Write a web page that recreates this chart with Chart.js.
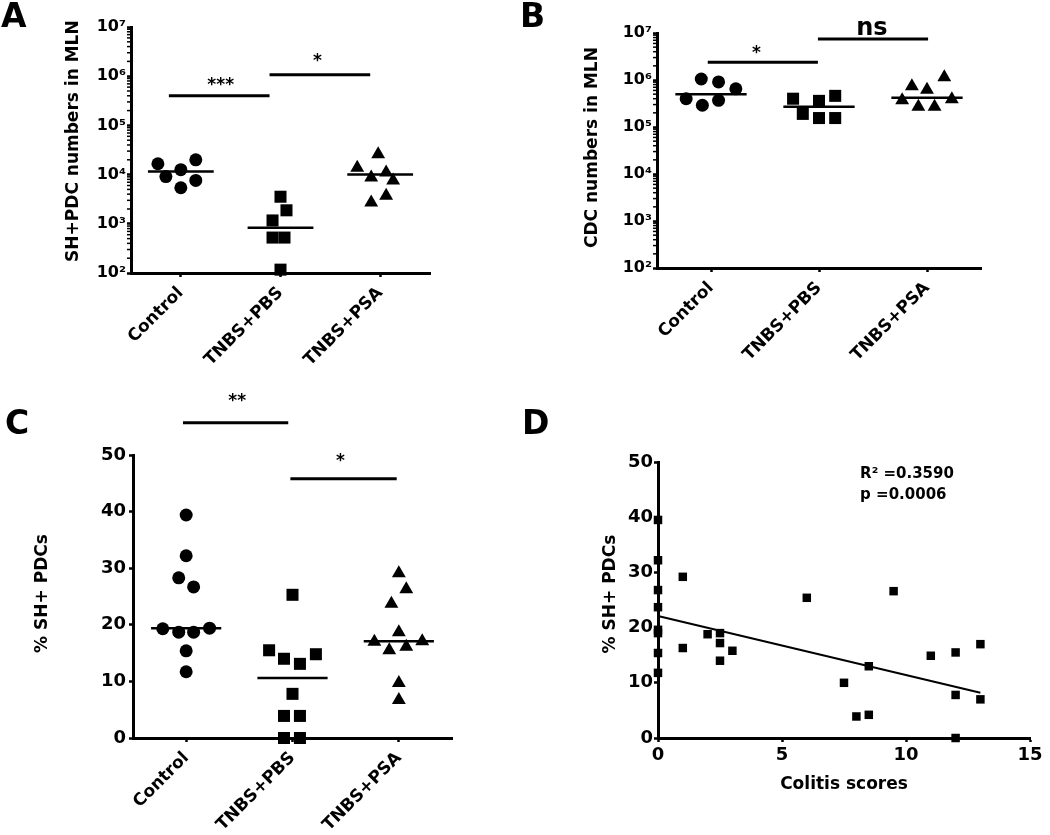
<!DOCTYPE html>
<html><head><meta charset="utf-8">
<script src="https://cdn.jsdelivr.net/npm/chart.js@4.4.1/dist/chart.umd.min.js"></script>
<style>
html,body{margin:0;padding:0;background:#fff;}
body{width:1050px;height:835px;position:relative;overflow:hidden;}
canvas{position:absolute;}
.lbl{position:absolute;font-family:'DejaVu Sans',sans-serif;font-weight:bold;font-size:33px;line-height:33px;color:#000;z-index:5;}
</style></head><body>
<canvas id="cA" width="520" height="400" style="left:0;top:0"></canvas>
<canvas id="cB" width="530" height="400" style="left:520px;top:0"></canvas>
<canvas id="cC" width="520" height="455" style="left:0;top:380px"></canvas>
<canvas id="cD" width="530" height="455" style="left:520px;top:380px"></canvas>
<div class="lbl" style="left:1px;top:-1px">A</div>
<div class="lbl" style="left:520px;top:-1px">B</div>
<div class="lbl" style="left:5px;top:406px">C</div>
<div class="lbl" style="left:522px;top:406px">D</div>
<script>
// ---------- shared categories / ticks ----------
const groups = ['Control', 'TNBS+PBS', 'TNBS+PSA'];
const groupTicks = [0, 1, 2];
const logTickValues = [1e2, 1e3, 1e4, 1e5, 1e6, 1e7];
const logTickLabels = ['10²', '10³', '10⁴', '10⁵', '10⁶', '10⁷'];
const pctTickValues = [0, 10, 20, 30, 40, 50];
const pctTickLabels = ['0', '10', '20', '30', '40', '50'];
const scoreTickValues = [0, 5, 10, 15];
const scoreTickLabels = ['0', '5', '10', '15'];

// ---------- Panel A : SH+PDC numbers in MLN ----------
const aControl = [16600, 20000, 9100, 12600, 7600, 5400];
const aControlJitter = [-0.23, 0.15, -0.15, 0, 0.15, 0];
const aPBS = [3550, 1880, 1170, 525, 525, 117];
const aPBSJitter = [0, 0.06, -0.08, -0.08, 0.04, 0];
const aPSA = [26000, 13800, 11000, 8700, 7600, 3700, 2700];
const aPSAJitter = [-0.02, -0.23, 0.06, -0.09, 0.13, 0.06, -0.09];
const aMedians = [11500, 830, 10000];
const aSigFrom = [-0.12, 0.89];
const aSigTo = [0.89, 1.9];
const aSigY = [4.0e5, 1.07e6];
const aSigText = ['***', '*'];
const aSigTextX = [0.40, 1.37];
const aSigTextY = [5.15e5, 1.58e6];

// ---------- Panel B : CDC numbers in MLN ----------
const bControl = [1.05e6, 9.1e5, 6.5e5, 4.0e5, 3.7e5, 2.9e5];
const bControlJitter = [-0.09, 0.07, 0.23, -0.23, 0.07, -0.08];
const bPBS = [4.0e5, 4.6e5, 3.6e5, 1.9e5, 1.55e5, 1.55e5];
const bPBSJitter = [-0.24, 0.15, 0, -0.15, 0, 0.15];
const bPSA = [1.15e6, 7.4e5, 6.2e5, 3.7e5, 3.9e5, 2.7e5, 2.7e5];
const bPSAJitter = [0.16, -0.14, 0, -0.23, 0.23, -0.08, 0.07];
const bMedians = [5.0e5, 2.7e5, 4.2e5];
const bSigFrom = [-0.03, 0.99];
const bSigTo = [0.99, 2.01];
const bSigY = [2.4e6, 7.45e6];
const bSigText = ['*', 'ns'];
const bSigTextX = [0.42, 1.49];
const bSigTextY = [3.0e6, 9.07e6];

// ---------- Panel C : % SH+ PDCs ----------
const cControl = [39.4, 32.2, 28.3, 26.7, 19.3, 18.7, 18.7, 19.4, 15.4, 11.7];
const cControlJitter = [0, 0, -0.07, 0.07, -0.22, -0.07, 0.07, 0.22, 0, 0];
const cPBS = [25.3, 15.5, 14.0, 13.1, 14.8, 7.8, 3.9, 3.9, 0, 0];
const cPBSJitter = [0, -0.22, -0.08, 0.07, 0.22, 0, -0.08, 0.07, -0.08, 0.07];
const cPSA = [29.1, 26.3, 23.7, 18.7, 17.0, 15.5, 16.1, 17.1, 9.7, 6.7];
const cPSAJitter = [0, 0.07, -0.07, 0, -0.23, -0.09, 0.07, 0.22, 0, 0];
const cMedians = [19.4, 10.6, 17.1];
const cSigFrom = [-0.03, 0.98];
const cSigTo = [0.96, 1.98];
const cSigY = [55.7, 45.8];
const cSigText = ['**', '*'];
const cSigTextX = [0.48, 1.45];
const cSigTextY = [58.7, 48.0];

// ---------- Panel D : % SH+ PDCs vs colitis scores ----------
const dScores = [0, 0, 0, 0, 0, 0, 0, 0, 1, 1, 2, 2.5, 2.5, 2.5, 3, 6, 7.5, 8, 8.5, 8.5, 9.5, 11, 12, 12, 12, 13, 13];
const dPct = [39.5, 32.2, 26.8, 23.7, 19.6, 19.0, 15.4, 11.8, 29.2, 16.3, 18.8, 19.0, 17.2, 14.0, 15.8, 25.4, 10.0, 3.9, 4.2, 13.0, 26.6, 14.9, 15.5, 7.8, 0, 17.0, 7.0];
const dFitIntercept = 22.1;
const dFitSlope = -1.07;
const dFitRange = [0, 13];
const dStatText = ['R² =0.3590', 'p =0.0006'];
const dStatX = [8.15, 8.15];
const dStatY = [47.1, 43.3];

// ---------- helpers ----------
Chart.defaults.font.family = "'DejaVu Sans', sans-serif";
Chart.defaults.font.weight = 'bold';
Chart.defaults.color = '#000';
Chart.defaults.animation = false;

const tickColorFn = c => (c.tick && c.tick.major === false) ? 'rgba(0,0,0,0)' : '#000';

function axisCommon(extra) {
  return Object.assign({
    border: {display: true, color: '#000', width: 3},
    grid: {display: true, drawOnChartArea: false, drawTicks: true, tickLength: 4, tickWidth: 2.5, tickColor: tickColorFn}
  }, extra);
}
function groupX(height, pad) {
  return axisCommon({
    type: 'linear', min: -0.5, max: 2.5,
    afterBuildTicks: s => { s.ticks = groupTicks.map(v => ({value: v})); },
    afterFit: s => { s.height = height; },
    ticks: {autoSkip: false, minRotation: 45, maxRotation: 45, padding: pad, font: {size: 17, weight: 'bold'},
      callback: v => groups[groupTicks.indexOf(v)]}
  });
}
function logY(width, title, titlePad) {
  return axisCommon({
    type: 'logarithmic', min: logTickValues[0], max: logTickValues[logTickValues.length - 1],
    afterBuildTicks: s => {
      const t = [];
      for (let k = 0; k < logTickValues.length - 1; k++)
        for (let m = 1; m <= 9; m++) t.push({value: m * logTickValues[k], major: m === 1});
      t.push({value: logTickValues[logTickValues.length - 1], major: true});
      s.ticks = t;
    },
    afterFit: s => { s.width = width; },
    ticks: {autoSkip: false, padding: 1, font: {size: 16, weight: 'bold'},
      callback: v => { const i = logTickValues.indexOf(v); return i < 0 ? '' : logTickLabels[i]; }},
    title: {display: true, text: title, font: {size: 17, weight: 'bold'}, padding: {top: titlePad, bottom: 0}}
  });
}
function pctY(width, title, titlePad, pad) {
  return axisCommon({
    type: 'linear', min: pctTickValues[0], max: pctTickValues[pctTickValues.length - 1],
    afterBuildTicks: s => { s.ticks = pctTickValues.map(v => ({value: v})); },
    afterFit: s => { s.width = width; },
    ticks: {autoSkip: false, padding: pad, font: {size: 18, weight: 'bold'},
      callback: v => pctTickLabels[pctTickValues.indexOf(v)]},
    title: {display: true, text: title, font: {size: 17, weight: 'bold'}, padding: {top: titlePad, bottom: 0}}
  });
}
function segment(x1, x2, y1, y2, w) {
  return {data: [{x: x1, y: y1}, {x: x2, y: y2}], showLine: true, borderColor: '#000', borderWidth: w,
    pointRadius: 0, clip: false, order: 2};
}
function pointSet(data, style, r) {
  return {data: data, pointStyle: style, pointRadius: r, pointBackgroundColor: '#000', pointBorderColor: '#000',
    pointBorderWidth: 0, showLine: false, clip: false, order: 1};
}
function groupDatasets(sets, jitters, medians, sigFrom, sigTo, sigY, radii) {
  const styles = ['circle', 'rect', 'triangle'];
  const ds = [];
  sets.forEach((vals, g) => {
    ds.push(pointSet(vals.map((v, i) => ({x: groupTicks[g] + jitters[g][i], y: v})), styles[g], radii[g]));
    ds.push(segment(groupTicks[g] - 0.33, groupTicks[g] + 0.33, medians[g], medians[g], 2.5));
  });
  sigFrom.forEach((f, i) => ds.push(segment(f, sigTo[i], sigY[i], sigY[i], 3)));
  return ds;
}
function annotPlugin(items) {
  return {
    id: 'annot',
    afterDatasetsDraw(chart) {
      const ctx = chart.ctx, xs = chart.scales.x, ys = chart.scales.y;
      ctx.save();
      if (ys.type === 'logarithmic') {
        ctx.strokeStyle = '#000'; ctx.lineWidth = 1.5;
        ys.ticks.forEach(t => {
          if (t.major === false) {
            const py = ys.getPixelForValue(t.value);
            ctx.beginPath(); ctx.moveTo(ys.right - 4, py); ctx.lineTo(ys.right, py); ctx.stroke();
          }
        });
      }
      items.forEach(it => {
        ctx.font = it.font; ctx.fillStyle = '#000';
        ctx.textAlign = it.align || 'center'; ctx.textBaseline = 'alphabetic';
        ctx.fillText(it.text, xs.getPixelForValue(it.x), ys.getPixelForValue(it.y));
      });
      ctx.restore();
    }
  };
}
function sigItems(texts, xs, ys) {
  return texts.map((t, i) => ({text: t, x: xs[i], y: ys[i],
    font: t === 'ns' ? "bold 24px 'DejaVu Sans'" : "bold 17px 'DejaVu Sans'"}));
}
function groupChart(id, pad, yAxis, xHeight, xPad, datasets, items) {
  return new Chart(document.getElementById(id), {
    type: 'scatter',
    data: {datasets: datasets},
    options: {
      responsive: false, animation: false, events: [],
      layout: {padding: pad},
      plugins: {legend: {display: false}, tooltip: {enabled: false}},
      scales: {x: groupX(xHeight, xPad), y: yAxis}
    },
    plugins: [annotPlugin(items)]
  });
}

// ---------- Panel A ----------
groupChart('cA', {left: 0, top: 27, right: 90, bottom: 0},
  logY(131, '   SH+PDC numbers in MLN', 63), 127, 6,
  groupDatasets([aControl, aPBS, aPSA], [aControlJitter, aPBSJitter, aPSAJitter], aMedians,
    aSigFrom, aSigTo, aSigY, [6.5, 8.5, 8]),
  sigItems(aSigText, aSigTextX, aSigTextY));

// ---------- Panel B ----------
groupChart('cB', {left: 0, top: 33, right: 69, bottom: 0},
  logY(137, ' CDC numbers in MLN', 62), 132, 6,
  groupDatasets([bControl, bPBS, bPSA], [bControlJitter, bPBSJitter, bPSAJitter], bMedians,
    bSigFrom, bSigTo, bSigY, [6.5, 8.5, 8]),
  sigItems(bSigText, bSigTextX, bSigTextY));

// ---------- Panel C ----------
groupChart('cC', {left: 0, top: 75, right: 68, bottom: 0},
  pctY(133, ' % SH+ PDCs', 32, 3), 97, 6,
  groupDatasets([cControl, cPBS, cPSA], [cControlJitter, cPBSJitter, cPSAJitter], cMedians,
    cSigFrom, cSigTo, cSigY, [6.5, 8.5, 8]),
  sigItems(cSigText, cSigTextX, cSigTextY));

// ---------- Panel D ----------
new Chart(document.getElementById('cD'), {
  type: 'scatter',
  data: {datasets: [
    pointSet(dScores.map((s, i) => ({x: s, y: dPct[i]})), 'rect', 6),
    segment(dFitRange[0], dFitRange[1], dFitIntercept + dFitSlope * dFitRange[0], dFitIntercept + dFitSlope * dFitRange[1], 2)
  ]},
  options: {
    responsive: false, animation: false, events: [],
    layout: {padding: {left: 0, top: 82, right: 20, bottom: 0}},
    plugins: {legend: {display: false}, tooltip: {enabled: false}},
    scales: {
      x: axisCommon({
        type: 'linear', min: scoreTickValues[0], max: scoreTickValues[scoreTickValues.length - 1],
        afterBuildTicks: s => { s.ticks = scoreTickValues.map(v => ({value: v})); },
        afterFit: s => { s.height = 97; },
        ticks: {autoSkip: false, maxRotation: 0, minRotation: 0, padding: 3, font: {size: 18, weight: 'bold'},
          callback: v => scoreTickLabels[scoreTickValues.indexOf(v)]},
        title: {display: true, text: 'Colitis scores', font: {size: 17, weight: 'bold'}, padding: {top: 0, bottom: 40}}
      }),
      y: pctY(138, '  % SH+ PDCs', 80, 1)
    }
  },
  plugins: [annotPlugin(dStatText.map((t, i) => ({text: t, x: dStatX[i], y: dStatY[i], align: 'left',
    font: "bold 15px 'DejaVu Sans'"})))]
});
</script>
</body></html>
